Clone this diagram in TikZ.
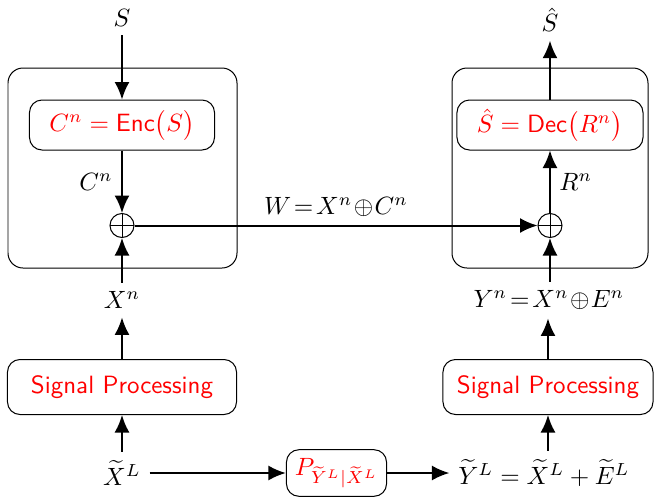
\documentclass[tikz,border=0pt]{standalone}
\usepackage{amsmath}
\usepackage{tikz}
\usetikzlibrary{arrows.meta}
\definecolor{blkred}{HTML}{FF0000}

\tikzset{
  blk/.style={draw, rounded corners=5pt, text=blkred, minimum height=20pt},
  xorc/.style={draw, circle, inner sep=0pt, minimum size=9.6pt,
    path picture={\draw (path picture bounding box.north) -- (path picture bounding box.south)
      (path picture bounding box.west) -- (path picture bounding box.east);}},
  sig/.style={->, thick},
  >={Latex[length=7pt,width=6pt]}
}

\begin{document}
\begin{tikzpicture}[x=0.4pt, y=0.4pt]
  \useasboundingbox (0,0) rectangle (655,496);
  % outer blocks
  \draw[rounded corners=6pt] (8,228) rectangle (237,428);
  \draw[rounded corners=6pt] (452,228) rectangle (648,428);
  % encoder side
  \node (src) at (122,478) {$S$};
  \node[blk, minimum width=74pt] (enc) at (122,371) {$C^n = \mathsf{Enc}\big(S\big)$};
  \node[xorc] (xorl) at (122,270.5) {};
  \node (xn) at (122,196) {$X^n$};
  \node[blk, minimum width=91.6pt, minimum height=22pt, font=\sffamily] (spl) at (122,109) {Signal Processing};
  \node (xt) at (122,23) {$\widetilde{X}^L$};
  % channel
  \node[blk, minimum width=40pt, minimum height=17.6pt] (chan) at (336.5,23) {$P_{\widetilde{Y}^L|\widetilde{X}^L}$};
  % decoder side
  \node (yt) at (544,23) {$\widetilde{Y}^L = \widetilde{X}^L + \widetilde{E}^L$};
  \node[blk, minimum width=84pt, minimum height=22pt, font=\sffamily] (spr) at (548,109) {Signal Processing};
  \node (yn) at (549,196) {$Y^n\!=\!X^n\!\oplus\!E^n$};
  \node[xorc] (xorr) at (550,270.5) {};
  \node[blk, minimum width=74.4pt] (dec) at (550,371) {$\hat{S} = \mathsf{Dec}\big(R^n\big)$};
  \node (est) at (550,476) {$\hat{S}$};

  \draw[sig] (src) -- (enc);
  \draw[sig] (enc) -- node[left] {$C^n$} (xorl);
  \draw[sig] (xn) -- (xorl);
  \draw[sig] (spl) -- (xn);
  \draw[sig] (xt) -- (spl);
  \draw[sig] (xt) -- (chan);
  \draw[sig] (chan) -- (yt);
  \draw[sig] (xorl) -- node[above] {$W\!=\!X^n\!\oplus\!C^n$} (xorr);
  \draw[sig] (yt.north -| spr) -- (spr);
  \draw[sig] (spr) -- (yn.south -| spr);
  \draw[sig] (yn.north -| xorr) -- (xorr);
  \draw[sig] (xorr) -- node[right] {$R^n$} (dec);
  \draw[sig] (dec) -- (est);
\end{tikzpicture}
\end{document}
